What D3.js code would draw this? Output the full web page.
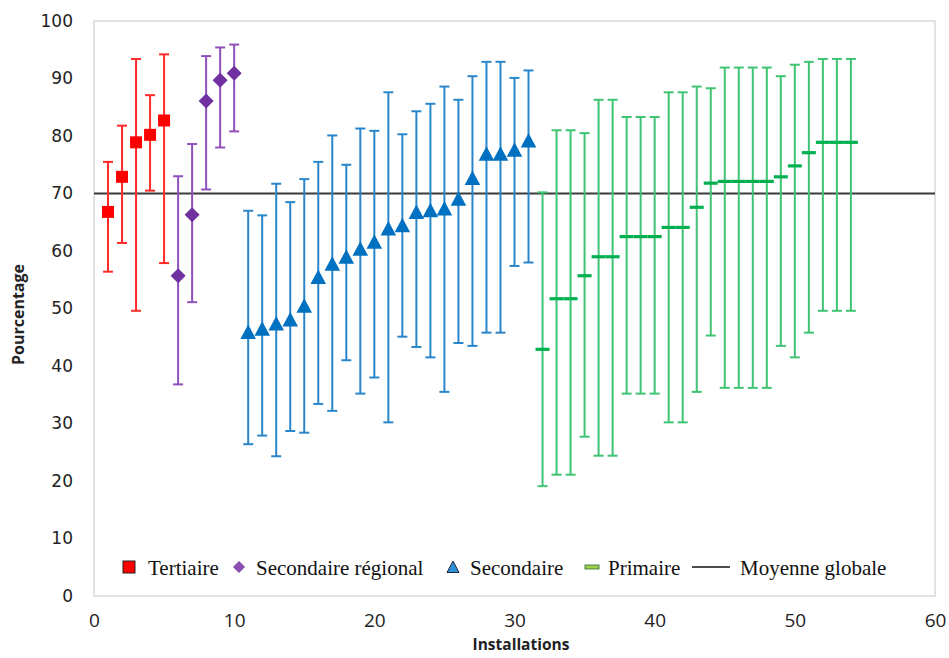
<!DOCTYPE html>
<html>
<head>
<meta charset="utf-8">
<script src="https://cdn.jsdelivr.net/npm/d3@7"></script>
<style>
  html, body { margin: 0; padding: 0; background: #fff; }
  svg { display: block; }
</style>
</head>
<body>
<svg id="chart" width="949" height="658"></svg>
<script>
// Per-installation averages with min/max ranges, grouped by level of care
const tertiaireStart = 1;
const tertiaireVal  = [66.8, 72.9, 78.9, 80.2, 82.7];
const tertiaireLow  = [56.4, 61.4, 49.6, 70.5, 57.9];
const tertiaireHigh = [75.5, 81.8, 93.4, 87.1, 94.2];

const secRegStart = 6;
const secRegVal  = [55.7, 66.3, 86.1, 89.7, 90.9];
const secRegLow  = [36.8, 51.1, 70.7, 78.0, 80.8];
const secRegHigh = [73.0, 78.6, 93.9, 95.4, 95.9];

const secondaireStart = 11;
const secondaireVal  = [45.9, 46.5, 47.4, 48.1, 50.5, 55.5, 57.8, 59.0, 60.4, 61.6, 63.9,
                        64.5, 66.8, 67.1, 67.4, 69.1, 72.7, 76.9, 76.9, 77.6, 79.2];
const secondaireHigh = [67.0, 66.2, 71.7, 68.5, 72.5, 75.5, 80.1, 75.0, 81.3, 80.9, 87.6,
                        80.3, 84.3, 85.6, 88.6, 86.3, 90.4, 92.9, 92.9, 90.1, 91.4];
const secondaireLow  = [26.4, 27.9, 24.3, 28.7, 28.4, 33.4, 32.2, 41.0, 35.2, 38.0, 30.2,
                        45.1, 43.3, 41.5, 35.5, 44.0, 43.5, 45.8, 45.8, 57.4, 58.0];

const primaireStart = 32;
const primaireVal  = [42.9, 51.7, 51.7, 55.7, 59.0, 59.0, 62.5, 62.5, 62.5, 64.1, 64.1, 67.6,
                      71.8, 72.1, 72.1, 72.1, 72.1, 72.9, 74.8, 77.1, 78.9, 78.9, 78.9];
const primaireHigh = [70.2, 81.0, 81.0, 80.5, 86.3, 86.3, 83.3, 83.3, 83.3, 87.6, 87.6, 88.6,
                      88.3, 91.9, 91.9, 91.9, 91.9, 90.4, 92.4, 92.9, 93.4, 93.4, 93.4];
const primaireLow  = [19.1, 21.1, 21.1, 27.7, 24.4, 24.4, 35.2, 35.2, 35.2, 30.2, 30.2, 35.5,
                      45.3, 36.2, 36.2, 36.2, 36.2, 43.5, 41.5, 45.8, 49.6, 49.6, 49.6];

const moyenneGlobale = 70;

const xTicks = [0, 10, 20, 30, 40, 50, 60];
const yTicks = [0, 10, 20, 30, 40, 50, 60, 70, 80, 90, 100];
const seriesNames = ["Tertiaire", "Secondaire régional", "Secondaire", "Primaire", "Moyenne globale"];

const svg = d3.select("#chart");
const plot = { left: 94, right: 935, top: 21, bottom: 596 };

const x = d3.scaleLinear().domain([0, 60]).range([plot.left, plot.right]);
const y = d3.scaleLinear().domain([0, 100]).range([plot.bottom, plot.top]);

// plot area frame
svg.append("rect")
  .attr("x", plot.left).attr("y", plot.top)
  .attr("width", plot.right - plot.left).attr("height", plot.bottom - plot.top)
  .attr("fill", "none").attr("stroke", "#d9d9d9").attr("stroke-width", 1.5);

// axes (labels only, no tick marks)
const xAxis = svg.append("g")
  .attr("transform", `translate(0,${plot.bottom})`)
  .call(d3.axisBottom(x).tickValues(xTicks).tickSize(0).tickPadding(18));
xAxis.select(".domain").remove();
xAxis.selectAll("text")
  .attr("font-family", "'Open Sans', sans-serif").attr("font-size", 19).attr("fill", "#222");

const yAxis = svg.append("g")
  .attr("transform", `translate(${plot.left},0)`)
  .call(d3.axisLeft(y).tickValues(yTicks).tickSize(0).tickPadding(21));
yAxis.select(".domain").remove();
yAxis.selectAll("text")
  .attr("font-family", "'DejaVu Sans', sans-serif").attr("font-size", 17).attr("fill", "#222");

svg.append("text")
  .attr("x", 521).attr("y", 650)
  .attr("text-anchor", "middle")
  .attr("font-family", "'Open Sans', sans-serif").attr("font-weight", "bold")
  .attr("font-size", 15.5).attr("fill", "#222")
  .text("Installations");

svg.append("text")
  .attr("transform", `translate(24,${(plot.top + plot.bottom) / 2 + 6}) rotate(-90)`)
  .attr("text-anchor", "middle")
  .attr("font-family", "'Open Sans', sans-serif").attr("font-weight", "bold")
  .attr("font-size", 16).attr("fill", "#222")
  .text("Pourcentage");

// global mean line
svg.append("line")
  .attr("x1", plot.left).attr("x2", plot.right)
  .attr("y1", y(moyenneGlobale)).attr("y2", y(moyenneGlobale))
  .attr("stroke", "#3a3a3a").attr("stroke-width", 2);

function rows(start, vals, lows, highs) {
  return vals.map((v, i) => ({ x: start + i, v, lo: lows[i], hi: highs[i] }));
}

const series = [
  { data: rows(tertiaireStart, tertiaireVal, tertiaireLow, tertiaireHigh), color: "#ff0000", bar: "#ff2a2a", shape: "square" },
  { data: rows(secRegStart, secRegVal, secRegLow, secRegHigh), color: "#7030a0", bar: "#9050bb", shape: "diamond" },
  { data: rows(secondaireStart, secondaireVal, secondaireLow, secondaireHigh), color: "#0070c0", bar: "#2a86cb", shape: "triangle" },
  { data: rows(primaireStart, primaireVal, primaireLow, primaireHigh), color: "#00b050", bar: "#3fc474", shape: "dash" }
];

const capHalf = 5;

function markerPath(shape) {
  switch (shape) {
    case "square": return "M-6,-6H6V6H-6Z";
    case "diamond": return "M0,-7.5L7.5,0L0,7.5L-7.5,0Z";
    case "triangle": return "M0,-7.5L7.8,7L-7.8,7Z";
    case "dash": return "M-7,-1.6H7V1.6H-7Z";
  }
}

series.forEach(s => {
  const g = svg.append("g");
  const eb = g.selectAll("g.err").data(s.data).join("g").attr("class", "err")
    .attr("stroke", s.bar).attr("stroke-width", 2);
  eb.append("line")
    .attr("x1", d => x(d.x)).attr("x2", d => x(d.x))
    .attr("y1", d => y(d.hi)).attr("y2", d => y(d.lo));
  eb.append("line")
    .attr("x1", d => x(d.x) - capHalf).attr("x2", d => x(d.x) + capHalf)
    .attr("y1", d => y(d.hi)).attr("y2", d => y(d.hi));
  eb.append("line")
    .attr("x1", d => x(d.x) - capHalf).attr("x2", d => x(d.x) + capHalf)
    .attr("y1", d => y(d.lo)).attr("y2", d => y(d.lo));

  g.selectAll("path.mark").data(s.data).join("path").attr("class", "mark")
    .attr("transform", d => `translate(${x(d.x)},${y(d.v)})`)
    .attr("d", markerPath(s.shape))
    .attr("fill", s.color);
});

// legend
const legendY = 567;
const legendFont = "'Liberation Serif', 'Times New Roman', serif";
const legendItems = [
  { sym: "square",   sx: 129, tx: 148 },
  { sym: "diamond",  sx: 239, tx: 256 },
  { sym: "triangle", sx: 453, tx: 470 },
  { sym: "dash",     sx: 592, tx: 608 },
  { sym: "line",     sx: 711, tx: 740 }
];
const lg = svg.append("g");
legendItems.forEach((it, i) => {
  if (it.sym === "square") {
    lg.append("rect").attr("x", it.sx - 6).attr("y", legendY - 6).attr("width", 12).attr("height", 12)
      .attr("fill", "#ff0000").attr("stroke", "#222").attr("stroke-width", 1);
  } else if (it.sym === "diamond") {
    lg.append("path").attr("transform", `translate(${it.sx},${legendY})`)
      .attr("d", "M0,-5.5L5.5,0L0,5.5L-5.5,0Z").attr("fill", "#8a4fb0").attr("stroke", "#6a2e98").attr("stroke-width", 0.8);
  } else if (it.sym === "triangle") {
    lg.append("path").attr("transform", `translate(${it.sx},${legendY})`)
      .attr("d", "M0,-6L6,5.5L-6,5.5Z").attr("fill", "#2f8fd8").attr("stroke", "#1d2a3a").attr("stroke-width", 1);
  } else if (it.sym === "dash") {
    lg.append("rect").attr("x", it.sx - 7).attr("y", legendY - 2).attr("width", 14).attr("height", 4)
      .attr("fill", "#9bd14f").attr("stroke", "#2d6b2d").attr("stroke-width", 0.8);
  } else {
    lg.append("line").attr("x1", 692).attr("x2", 730).attr("y1", legendY).attr("y2", legendY)
      .attr("stroke", "#111").attr("stroke-width", 1.3);
  }
  lg.append("text").attr("x", it.tx).attr("y", legendY + 8)
    .attr("font-family", legendFont).attr("font-size", 21).attr("fill", "#111")
    .text(seriesNames[i]);
});
</script>
</body>
</html>
